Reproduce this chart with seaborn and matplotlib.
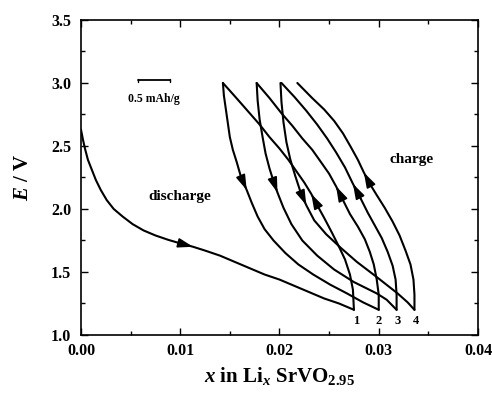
import numpy as np
import pandas as pd
import matplotlib
matplotlib.use("Agg")
import matplotlib.pyplot as plt
import seaborn as sns

# First discharge, from open circuit down to the 1.2 V cut-off (point 1)
discharge0_x = [0.0000, 0.0002, 0.0004, 0.0007, 0.0011, 0.0015, 0.0020, 0.0026,
                0.0033, 0.0042, 0.0052, 0.0063, 0.0075, 0.0088, 0.0101, 0.0113,
                0.0125, 0.0140, 0.0155, 0.0170, 0.0185, 0.0200, 0.0215, 0.0230,
                0.0245, 0.0260, 0.0275]
discharge0_E = [2.63, 2.55, 2.48, 2.39, 2.31, 2.23, 2.15, 2.07,
                2.00, 1.94, 1.88, 1.83, 1.79, 1.755, 1.725, 1.70,
                1.67, 1.63, 1.58, 1.53, 1.48, 1.44, 1.39, 1.34,
                1.29, 1.25, 1.20]

# Discharge branches, from 3.0 V down to the next cut-off point
discharge1_x = [0.0143, 0.0144, 0.0146, 0.0148, 0.0150, 0.0153, 0.0157, 0.0161,
                0.0167, 0.0172, 0.0178, 0.0185, 0.0194, 0.0206, 0.0219, 0.0234,
                0.0251, 0.0268, 0.0284, 0.0300]
discharge1_E = [3.00, 2.90, 2.79, 2.68, 2.57, 2.47, 2.37, 2.26,
                2.15, 2.05, 1.94, 1.84, 1.75, 1.65, 1.56, 1.48,
                1.40, 1.33, 1.26, 1.20]

discharge2_x = [0.0177, 0.0178, 0.0180, 0.0183, 0.0186, 0.0190, 0.0194, 0.0198,
                0.0204, 0.0212, 0.0223, 0.0238, 0.0255, 0.0275, 0.0298, 0.0308,
                0.0318]
discharge2_E = [3.00, 2.86, 2.71, 2.57, 2.44, 2.32, 2.22, 2.13,
                2.01, 1.88, 1.75, 1.63, 1.52, 1.42, 1.33, 1.28,
                1.20]

discharge3_x = [0.0201, 0.0202, 0.0204, 0.0207, 0.0211, 0.0216, 0.0221, 0.0227,
                0.0235, 0.0247, 0.0262, 0.0278, 0.0298, 0.0319, 0.0329, 0.0336]
discharge3_E = [3.00, 2.85, 2.69, 2.53, 2.39, 2.26, 2.14, 2.03,
                1.91, 1.80, 1.69, 1.58, 1.46, 1.33, 1.26, 1.20]

# Charge branches, listed from the 1.2 V end up to 3.0 V
charge1_x = [0.0275, 0.0274, 0.0271, 0.0266, 0.0260, 0.0253, 0.0245, 0.0238,
             0.0232, 0.0225, 0.0217, 0.0209, 0.0200, 0.0190, 0.0180, 0.0170,
             0.0160, 0.0151, 0.0143]
charge1_E = [1.20, 1.36, 1.48, 1.60, 1.70, 1.81, 1.93, 2.03,
             2.12, 2.21, 2.30, 2.39, 2.48, 2.57, 2.67, 2.76,
             2.85, 2.93, 3.00]

charge2_x = [0.0300, 0.0300, 0.0298, 0.0295, 0.0291, 0.0286, 0.0279, 0.0271,
             0.0264, 0.0257, 0.0250, 0.0242, 0.0233, 0.0223, 0.0213, 0.0202,
             0.0190, 0.0177]
charge2_E = [1.20, 1.32, 1.44, 1.56, 1.66, 1.76, 1.86, 1.96,
             2.07, 2.18, 2.28, 2.37, 2.47, 2.56, 2.66, 2.76,
             2.88, 3.00]

charge3_x = [0.0318, 0.0318, 0.0317, 0.0314, 0.0309, 0.0303, 0.0296, 0.0289,
             0.0282, 0.0274, 0.0266, 0.0257, 0.0248, 0.0238, 0.0227, 0.0215,
             0.0202]
charge3_E = [1.20, 1.32, 1.44, 1.55, 1.66, 1.77, 1.87, 1.97,
             2.08, 2.20, 2.33, 2.45, 2.56, 2.67, 2.78, 2.89,
             3.00]

charge4_x = [0.0336, 0.0336, 0.0335, 0.0332, 0.0327, 0.0321, 0.0314, 0.0306,
             0.0298, 0.0291, 0.0285, 0.0279, 0.0272, 0.0264, 0.0255, 0.0245,
             0.0233, 0.0218]
charge4_E = [1.20, 1.32, 1.44, 1.56, 1.67, 1.79, 1.90, 2.01,
             2.11, 2.20, 2.29, 2.39, 2.49, 2.60, 2.70, 2.79,
             2.88, 3.00]

# Cycle numbers at the lower turning points
cycle_labels = ["1", "2", "3", "4"]
cycle_x = [0.0277, 0.0300, 0.0319, 0.0338]

x_ticks = [0.00, 0.01, 0.02, 0.03, 0.04]
E_ticks = [1.0, 1.5, 2.0, 2.5, 3.0, 3.5]

# (name, x, E, index of the point where the direction arrow sits)
segments = [
    ("d0", discharge0_x, discharge0_E, 15),
    ("c1", charge1_x, charge1_E, 8),
    ("d1", discharge1_x, discharge1_E, 8),
    ("c2", charge2_x, charge2_E, 9),
    ("d2", discharge2_x, discharge2_E, 7),
    ("c3", charge3_x, charge3_E, 9),
    ("d3", discharge3_x, discharge3_E, 7),
    ("c4", charge4_x, charge4_E, 10),
]

frames = []
for name, xs, es, _ in segments:
    frames.append(pd.DataFrame({"x": xs, "E": es, "seg": name}))
df = pd.concat(frames, ignore_index=True)

sns.set_theme(style="ticks")
plt.rcParams["font.family"] = ["Liberation Serif", "DejaVu Serif"]
plt.rcParams["font.weight"] = "bold"
plt.rcParams["text.color"] = "black"
plt.rcParams["axes.labelcolor"] = "black"
plt.rcParams["xtick.color"] = "black"
plt.rcParams["ytick.color"] = "black"
plt.rcParams["mathtext.fontset"] = "custom"
plt.rcParams["mathtext.rm"] = "Liberation Serif:bold"
plt.rcParams["mathtext.it"] = "Liberation Serif:italic:bold"
plt.rcParams["mathtext.bf"] = "Liberation Serif:bold"

fig = plt.figure(figsize=(4.92, 3.95), dpi=100)
ax = fig.add_axes([0.1646, 0.1519, 0.8069, 0.7975])

sns.lineplot(data=df, x="x", y="E", units="seg", estimator=None, sort=False,
             color="black", lw=1.5, ax=ax, legend=False)

# Direction arrows on each branch
for name, xs, es, k in segments:
    ax.annotate("", xy=(xs[k], es[k]), xytext=(xs[k - 1], es[k - 1]),
                arrowprops=dict(arrowstyle="-|>,head_length=0.7,head_width=0.22",
                                mutation_scale=13, color="black", lw=1.2,
                                shrinkA=0, shrinkB=0))

ax.set_xlim(0.0, 0.04)
ax.set_ylim(1.0, 3.5)
ax.set_xticks(x_ticks)
ax.set_yticks(E_ticks)
ax.set_xticklabels([f"{v:.2f}" for v in x_ticks])
ax.set_yticklabels([f"{v:.1f}" for v in E_ticks])
ax.set_xticks(np.arange(0.005, 0.04, 0.01), minor=True)
ax.set_yticks(np.arange(1.25, 3.5, 0.5), minor=True)
ax.tick_params(which="both", direction="in", top=True, right=True,
               colors="black", labelsize=11.5, width=1.0)
ax.tick_params(which="major", length=5)
ax.tick_params(which="minor", length=3)
ax.tick_params(axis="x", which="major", pad=6)
ax.tick_params(axis="y", which="major", pad=7)
for lab in ax.get_xticklabels() + ax.get_yticklabels():
    lab.set_fontweight("bold")
for sp in ax.spines.values():
    sp.set_visible(True)
    sp.set_linewidth(1.2)
    sp.set_color("black")

ax.set_xlabel(r"$x$ in Li$_x$ SrVO$_{2.95}$", fontsize=15, fontweight="bold",
              labelpad=4)
ax.set_ylabel(r"$E$ / V", fontsize=15, fontweight="bold", labelpad=13)

# Text annotations
ax.text(0.0100, 2.10, "discharge", fontsize=11, fontweight="bold",
        ha="center", va="center")
ax.text(0.0333, 2.39, "charge", fontsize=11, fontweight="bold",
        ha="center", va="center")
for lab, cx in zip(cycle_labels, cycle_x):
    ax.text(cx, 1.11, lab, fontsize=9, fontweight="bold",
            ha="center", va="center")

# Capacity scale bar
bar_x0, bar_x1, bar_E = 0.0057, 0.0090, 3.02
ax.plot([bar_x0, bar_x1], [bar_E, bar_E], color="black", lw=1.3)
ax.plot([bar_x0, bar_x0], [bar_E - 0.015, bar_E + 0.015], color="black", lw=1.0)
ax.plot([bar_x1, bar_x1], [bar_E - 0.015, bar_E + 0.015], color="black", lw=1.0)
ax.text((bar_x0 + bar_x1) / 2, 2.87, "0.5 mAh/g", fontsize=8.5,
        fontweight="bold", ha="center", va="center")

fig.savefig("out.png", dpi=100)
